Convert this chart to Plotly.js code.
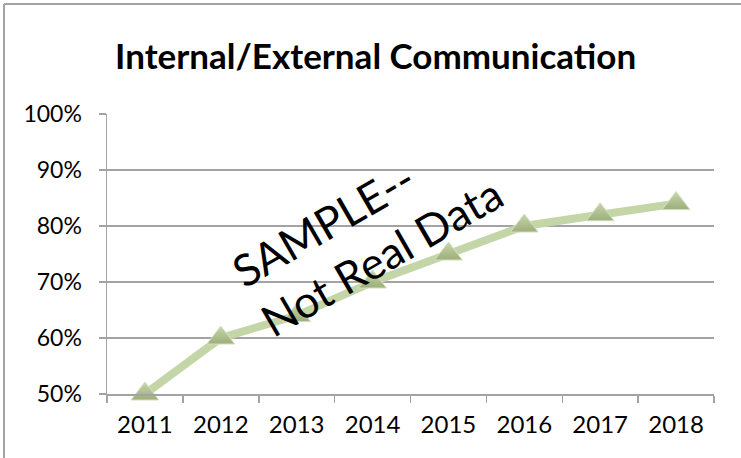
<!DOCTYPE html>
<html>
<head>
<meta charset="utf-8">
<script src="https://cdn.plot.ly/plotly-3.0.1.min.js"></script>
<style>
  html, body { margin: 0; padding: 0; background: #ffffff; }
  #chart { width: 741px; height: 458px; }
</style>
</head>
<body>
<div id="chart"></div>
<script>
// Data
const years = ['2011', '2012', '2013', '2014', '2015', '2016', '2017', '2018'];
const values = [50, 60, 64, 70, 75, 80, 82, 84];
const yTicks = [50, 60, 70, 80, 90, 100];
const yTickLabels = ['50%', '60%', '70%', '80%', '90%', '100%'];
const chartTitle = 'Internal/External Communication';
const watermark = 'SAMPLE--<br>Not Real Data';

const W = 741, H = 458;
const L = 107, R = 27, T = 114, B = 64;
const pw = W - L - R, ph = H - T - B;
const gray = '#a3a3a3';
const px2x = p => (p - L) / pw;
const py2y = p => (H - B - p) / ph;

const trace = {
  x: years,
  y: values,
  type: 'scatter',
  mode: 'lines+markers',
  line: { color: '#c4d6a8', width: 8 },
  marker: {
    symbol: 'triangle-up',
    size: 24,
    color: '#c8d6ad',
    gradient: { type: 'vertical', color: '#9cae78' },
    line: { color: '#d3dfc0', width: 1 }
  },
  hoverinfo: 'skip',
  cliponaxis: false
};

const layout = {
  width: W, height: H,
  margin: { l: L, r: R, t: T, b: B, pad: 0 },
  paper_bgcolor: '#ffffff',
  plot_bgcolor: '#ffffff',
  showlegend: false,
  font: { family: 'Lato, "Open Sans", sans-serif', color: '#000000' },
  title: {
    text: '<b>' + chartTitle + '</b>',
    font: { family: 'Lato, "Open Sans", sans-serif', size: 35, color: '#000000' },
    x: 0.507, xref: 'container', xanchor: 'center',
    y: 1 - 57 / H, yref: 'container', yanchor: 'middle'
  },
  xaxis: {
    type: 'category',
    range: [-0.5, years.length - 0.5],
    tickson: 'boundaries',
    ticks: 'outside', ticklen: 7, tickwidth: 1.5, tickcolor: gray,
    showline: true, linecolor: gray, linewidth: 1.5,
    showgrid: false, zeroline: false,
    tickfont: { size: 24, color: '#000000' },
    ticklabelstandoff: 9,
    fixedrange: true
  },
  yaxis: {
    range: [50, 100],
    tickmode: 'array', tickvals: yTicks, ticktext: yTickLabels,
    ticks: 'outside', ticklen: 7, tickwidth: 1.5, tickcolor: gray,
    showline: true, linecolor: gray, linewidth: 1.5,
    showgrid: true, gridcolor: gray, gridwidth: 1.5,
    zeroline: false,
    tickfont: { size: 23, color: '#000000' },
    ticklabelstandoff: 12,
    fixedrange: true
  },
  annotations: [{
    text: watermark,
    xref: 'paper', yref: 'paper',
    x: px2x(367), y: py2y(231),
    xanchor: 'center', yanchor: 'middle',
    align: 'left',
    textangle: -30,
    showarrow: false,
    font: { family: 'Lato, "Open Sans", sans-serif', size: 44, color: '#000000' }
  }],
  shapes: [
    { type: 'line', xref: 'paper', yref: 'paper',
      x0: px2x(4), x1: px2x(4), y0: py2y(470), y1: py2y(4),
      line: { color: gray, width: 2 } },
    { type: 'line', xref: 'paper', yref: 'paper',
      x0: px2x(4), x1: px2x(760), y0: py2y(4), y1: py2y(4),
      line: { color: gray, width: 2 } }
  ]
};

Plotly.newPlot('chart', [trace], layout, { staticPlot: true, displayModeBar: false });
</script>
</body>
</html>
